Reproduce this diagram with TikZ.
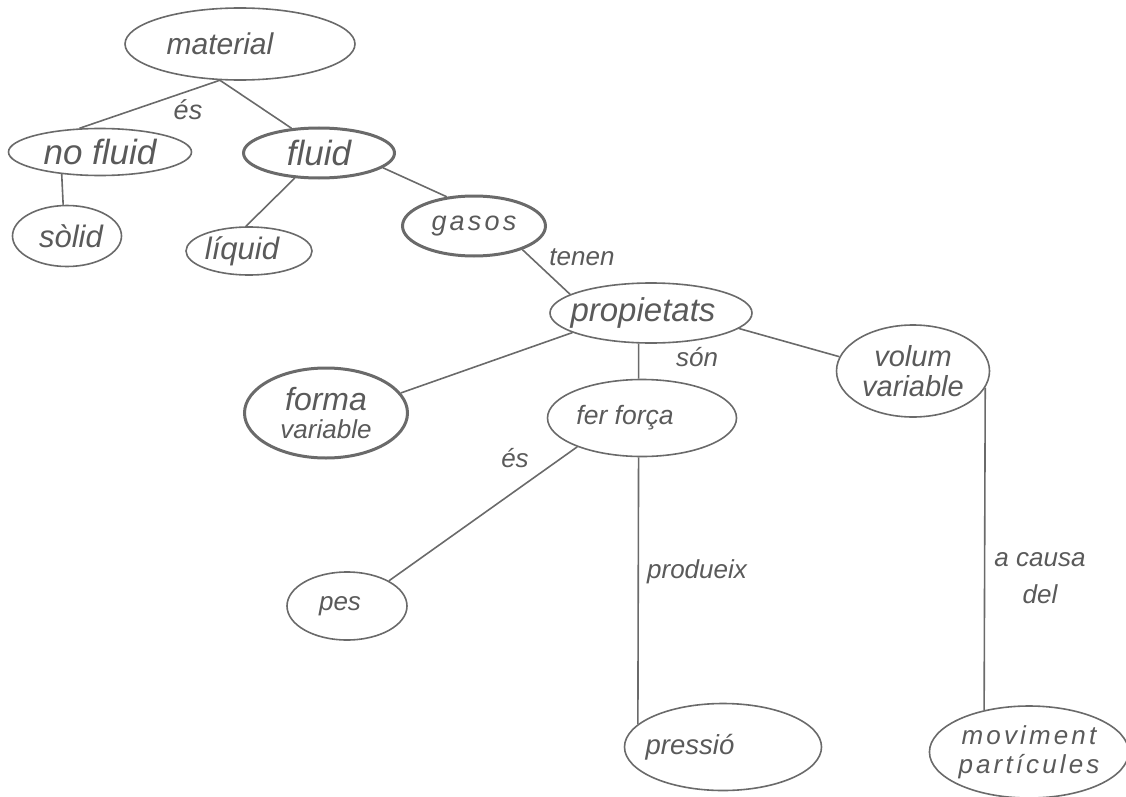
\documentclass[tikz,border=0pt]{standalone}
\usepackage{fontspec}
\setmainfont{Liberation Sans}
\usetikzlibrary{shapes.geometric}
\definecolor{ink}{HTML}{5A5A5A}
\definecolor{wire}{HTML}{6A6A6A}

\begin{document}
\begin{tikzpicture}[
  x=1pt, y=-1pt,
  concept/.style={draw=wire, ellipse, line width=1.6pt, inner sep=0pt, text=ink},
  keyconcept/.style={concept, line width=3pt},
  sz/.style={font=\itshape\fontsize{#1}{#1}\selectfont},
  nudge/.style={execute at begin node={\hspace*{#1}}},
  tag/.style={text=ink, inner sep=0pt, font=\itshape\fontsize{26}{28}\selectfont},
  link/.style={draw=wire, line width=1.6pt}
]
\useasboundingbox (0,0) rectangle (1126,797);

% concepts
\node[concept, sz=30, minimum width=230pt, minimum height=72pt, nudge=-40pt] at (240,44) (material) {material};
\node[concept, sz=35, minimum width=183pt, minimum height=47pt] at (100,152) (nofluid) {no fluid};
\node[keyconcept, sz=35, minimum width=151pt, minimum height=50pt] at (319,153) (fluid) {fluid};
\node[concept, sz=31, minimum width=109pt, minimum height=61pt, nudge=8pt] at (67,236) (solid) {sòlid};
\node[concept, sz=31, minimum width=126pt, minimum height=48pt, nudge=-14pt] at (249,251) (liquid) {líquid};
\node[keyconcept, sz=27, minimum width=143pt, minimum height=60pt] at (474,226) (gasos) {\addfontfeature{LetterSpace=12}gasos};
\node[concept, sz=33, minimum width=202pt, minimum height=60pt, nudge=-16pt] at (651,313) (propietats) {propietats};
\node[keyconcept, align=center, font=\itshape\fontsize{26}{28}\selectfont, minimum width=163pt, minimum height=90pt] at (326,413) (forma) {{\fontsize{32}{32}\selectfont forma}\\variable};
\node[concept, sz=26.5, minimum width=189pt, minimum height=77pt, nudge=-34pt] at (642,418) (ferforca) {fer força};
\node[concept, align=center, font=\itshape\fontsize{29}{30}\selectfont, minimum width=153pt, minimum height=92pt] at (913,371) (volum) {volum\\variable};
\node[concept, sz=26, minimum width=120pt, minimum height=68pt, nudge=-14pt] at (347,606) (pes) {pes};
\node[concept, sz=27.5, minimum width=197pt, minimum height=87pt, nudge=-66pt] at (723,747) (pressio) {pressió};
\node[concept, align=center, font=\itshape\fontsize{26}{29}\selectfont\addfontfeature{LetterSpace=12}, minimum width=192pt, minimum height=92pt] at (1029,752) (moviment) {moviment\\partícules};

% link words
\node[tag, font=\itshape\fontsize{27}{28}\selectfont] at (188,110) (es1) {és};
\node[tag] at (582,257) (tenen) {tenen};
\node[tag] at (697,357) (son) {són};
\node[tag] at (515,458) (es2) {és};
\node[tag] at (697,572) (produeix) {produeix};
\node[tag, align=center, font=\itshape\fontsize{26}{37}\selectfont] at (1040,578) (causa) {a causa\\del};

% links
\draw[link] (material.241) -- (nofluid.131);
\draw[link] (material.241) -- (fluid.138);
\draw[link] (nofluid.210) -- (solid.97);
\draw[link] (fluid.226) -- (liquid.97);
\draw[link] (fluid.347) -- (gasos.133);
\draw[link] (gasos.334) -- (propietats.167);
\draw[link] (propietats.194) -- (forma.15);
\draw[link] (propietats.248) -- (ferforca.95);
\draw[link] (propietats.350) -- (volum.169);
\draw[link] (ferforca.204) -- (pes.31);
\draw[link] (ferforca.265) -- (pressio.165);
\draw[link] (volum.347) -- (moviment.137);
\end{tikzpicture}
\end{document}
